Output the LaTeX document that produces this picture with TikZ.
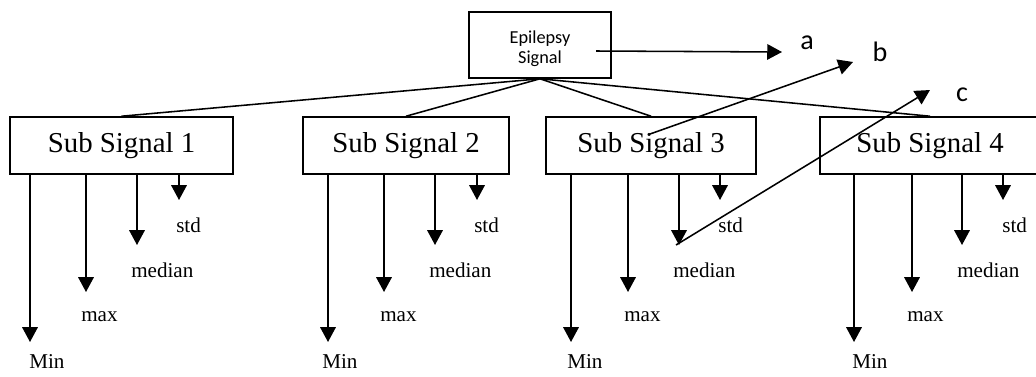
\documentclass[tikz,border=0pt]{standalone}
\usepackage{fontspec}
\setmainfont{Liberation Serif}
\newfontfamily\calibrifont{Carlito}
\usetikzlibrary{arrows.meta}

\begin{document}
\begin{tikzpicture}[
		x=0.025cm, y=-0.025cm,
		% hop tren cung
		topbox/.style={draw, line width=1.1pt, minimum width=3.55cm, minimum height=1.65cm,
			align=center, inner sep=0pt, font=\calibrifont\fontsize{13}{14.5}\selectfont},
		% cac hop tin hieu con
		subbox/.style={draw, line width=1.1pt, minimum height=1.425cm, inner sep=0pt,
			font=\fontsize{20.5}{24}\selectfont},
		featarrow/.style={-{Triangle[width=11pt,length=10.5pt]}, line width=1.1pt},
		featlabel/.style={anchor=west, inner sep=0pt, font=\fontsize{15}{18}\selectfont},
		letter/.style={inner sep=0pt, font=\calibrifont\fontsize{20}{24}\selectfont},
		link/.style={line width=1.1pt}
		]
		\useasboundingbox (0,0) rectangle (1036,376);
		
		% --- CAC HOP ---
		\node[topbox] (top) at (540,45) {\rule{0pt}{14.5pt}Epilepsy\\Signal};
		\node[subbox, minimum width=5.575cm] (s1) at (121.5,145.5) {Sub Signal 1};
		\node[subbox, minimum width=5.15cm] (s2) at (406,145.5) {Sub Signal 2};
		\node[subbox, minimum width=5.25cm] (s3) at (651,145.5) {Sub Signal 3};
		\node[subbox, minimum width=5.5cm] (s4) at (930,145.5) {Sub Signal 4};
		
		% --- NOI HOP TREN VOI HOP CON ---
		\draw[link] (top.south) -- (s1.north);
		\draw[link] (top.south) -- (s2.north);
		\draw[link] (top.south) -- (s3.north);
		\draw[link] (top.south) -- (s4.north);
		
		% --- Sub Signal 1 ---
		\coordinate (s1min) at (30,342);
		\coordinate (s1max) at (86,292);
		\coordinate (s1med) at (137,245);
		\coordinate (s1std) at (179,200);
		\draw[featarrow] (s1.south -| s1min) -- (s1min);
		\draw[featarrow] (s1.south -| s1max) -- (s1max);
		\draw[featarrow] (s1.south -| s1med) -- (s1med);
		\draw[featarrow] (s1.south -| s1std) -- (s1std);
		\node[featlabel] (s1minl) at (29,362) {Min};
		\node[featlabel] (s1maxl) at (81,317) {max};
		\node[featlabel] (s1medl) at (131,270) {median};
		\node[featlabel] (s1stdl) at (176,225) {std};
		
		% --- Sub Signal 2 ---
		\coordinate (s2min) at (328,342);
		\coordinate (s2max) at (384,292);
		\coordinate (s2med) at (435,245);
		\coordinate (s2std) at (477,200);
		\draw[featarrow] (s2.south -| s2min) -- (s2min);
		\draw[featarrow] (s2.south -| s2max) -- (s2max);
		\draw[featarrow] (s2.south -| s2med) -- (s2med);
		\draw[featarrow] (s2.south -| s2std) -- (s2std);
		\node[featlabel] (s2minl) at (322,362) {Min};
		\node[featlabel] (s2maxl) at (380,317) {max};
		\node[featlabel] (s2medl) at (429,270) {median};
		\node[featlabel] (s2stdl) at (474,225) {std};
		
		% --- Sub Signal 3 ---
		\coordinate (s3min) at (571,342);
		\coordinate (s3max) at (628,292);
		\coordinate (s3med) at (679,245);
		\coordinate (s3std) at (720,200);
		\draw[featarrow] (s3.south -| s3min) -- (s3min);
		\draw[featarrow] (s3.south -| s3max) -- (s3max);
		\draw[featarrow] (s3.south -| s3med) -- (s3med);
		\draw[featarrow] (s3.south -| s3std) -- (s3std);
		\node[featlabel] (s3minl) at (567,362) {Min};
		\node[featlabel] (s3maxl) at (624,317) {max};
		\node[featlabel] (s3medl) at (673,270) {median};
		\node[featlabel] (s3stdl) at (718,225) {std};
		
		% --- Sub Signal 4 ---
		\coordinate (s4min) at (854,342);
		\coordinate (s4max) at (912,292);
		\coordinate (s4med) at (962,245);
		\coordinate (s4std) at (1003,200);
		\draw[featarrow] (s4.south -| s4min) -- (s4min);
		\draw[featarrow] (s4.south -| s4max) -- (s4max);
		\draw[featarrow] (s4.south -| s4med) -- (s4med);
		\draw[featarrow] (s4.south -| s4std) -- (s4std);
		\node[featlabel] (s4minl) at (852,362) {Min};
		\node[featlabel] (s4maxl) at (907,317) {max};
		\node[featlabel] (s4medl) at (957,270) {median};
		\node[featlabel] (s4stdl) at (1002,225) {std};
		
		% --- MUI TEN a, b, c ---
		\node[letter] (a) at (807,43) {a};
		\node[letter] (b) at (880,52) {b};
		\node[letter] (c) at (962,95) {c};
		\coordinate (astart) at (596,51);
		\coordinate (aend) at (782,52);
		\coordinate (bstart) at (650,134);
		\coordinate (bend) at (853,62);
		\coordinate (cstart) at (676,245);
		\coordinate (cend) at (930,90);
		\draw[featarrow] (astart) -- (aend);
		\draw[featarrow] (bstart) -- (bend);
		\draw[featarrow] (cstart) -- (cend);
		
	\end{tikzpicture}
\end{document}
